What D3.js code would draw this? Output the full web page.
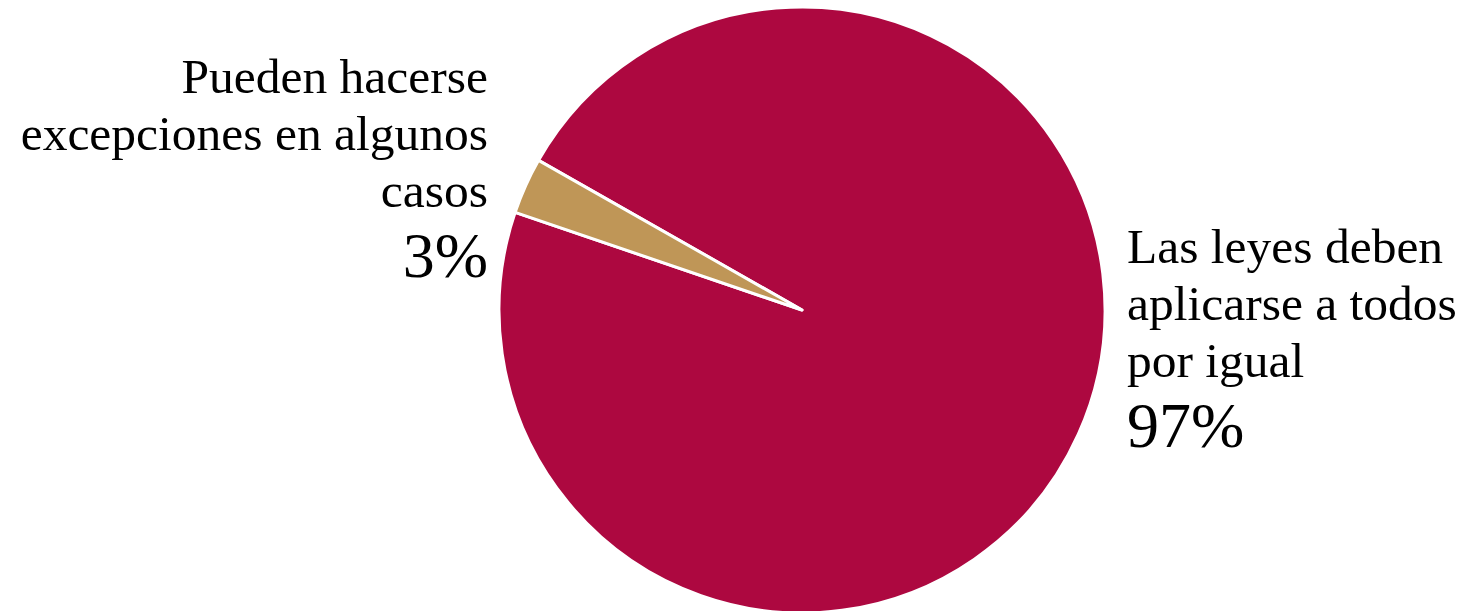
<!DOCTYPE html>
<html>
<head>
<meta charset="utf-8">
<script src="https://cdn.jsdelivr.net/npm/d3@7"></script>
<style>
  html, body { margin: 0; padding: 0; background: #fff; }
  svg { display: block; }
  text { font-family: "Liberation Serif", serif; fill: #000; }
</style>
</head>
<body>
<svg id="chart" width="1475" height="611"></svg>
<script>
const categories = ["Las leyes deben aplicarse a todos por igual", "Pueden hacerse excepciones en algunos casos"];
const values = [97, 3];
const labelLines = [["Las leyes deben", "aplicarse a todos", "por igual"], ["Pueden hacerse", "excepciones en algunos", "casos"]];
const percentLabels = ["97%", "3%"];
const colors = ["#AD0840", "#BF9657"];

const svg = d3.select("#chart");
const cx = 802, cy = 310, radius = 303;
const start = -60.4 * Math.PI / 180;

const pie = d3.pie().sort(null).value(d => d).startAngle(start).endAngle(start + 2 * Math.PI);
const arc = d3.arc().innerRadius(0).outerRadius(radius);
const arcs = pie(values);

const g = svg.append("g").attr("transform", `translate(${cx},${cy})`);
g.selectAll("path").data(arcs).join("path")
  .attr("d", arc)
  .attr("fill", (d, i) => colors[i])
  .attr("stroke", "#fff")
  .attr("stroke-width", 3)
  .attr("stroke-linejoin", "round");

const fs = 49.5, lh = 57, pfs = 64;
// right label (big slice)
const rl = svg.append("text").attr("x", 1127).attr("text-anchor", "start");
labelLines[0].forEach((t, i) => rl.append("tspan").attr("x", 1127).attr("y", 263 + i * lh).attr("font-size", fs).text(t));
rl.append("tspan").attr("x", 1127).attr("y", 447).attr("font-size", pfs).text(percentLabels[0]);
// left label (small slice)
const ll = svg.append("text").attr("x", 488).attr("text-anchor", "end");
labelLines[1].forEach((t, i) => ll.append("tspan").attr("x", 488).attr("y", 93 + i * lh).attr("font-size", fs).text(t));
ll.append("tspan").attr("x", 488).attr("y", 277).attr("font-size", pfs).text(percentLabels[1]);
</script>
</body>
</html>
